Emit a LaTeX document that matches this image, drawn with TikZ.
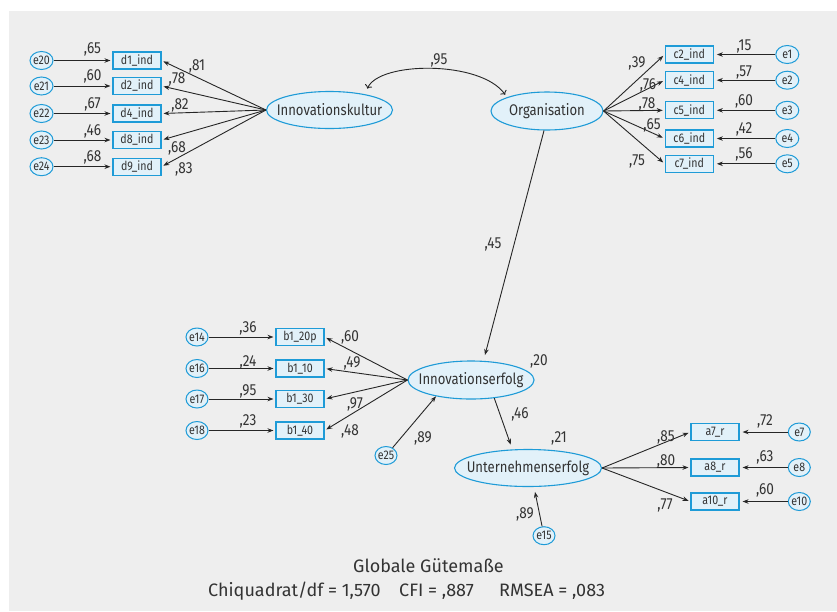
\documentclass[tikz,border=0pt]{standalone}
\usepackage{fontspec}
\setmainfont{Fira Sans}[FakeStretch=0.85]
\newfontfamily\fitfont{Fira Sans}
\usetikzlibrary{arrows.meta,shapes.geometric}

\definecolor{bgc}{HTML}{EEEEEE}
\definecolor{semline}{HTML}{1E9BD7}
\definecolor{semfill}{HTML}{E2F1F9}
\definecolor{ink}{HTML}{333333}
\definecolor{arrowc}{HTML}{262626}

% zero-width label so that an ellipse keeps exactly its given size
\newcommand\zwlabel[1]{\makebox[0pt]{#1}}

\tikzset{
  latent/.style={ellipse, draw=semline, fill=semfill, line width=1.1pt, inner sep=0pt,
    text=ink, font=\fontsize{15.4}{15.4}\selectfont},
  errvar/.style={ellipse, draw=semline, fill=semfill, line width=1pt, minimum width=23pt,
    minimum height=18pt, inner sep=0pt, text=ink, font=\fontsize{12.5}{12.5}\selectfont},
  indic/.style={rectangle, draw=semline, fill=semfill, line width=1.1pt, minimum width=48pt,
    minimum height=17pt, inner sep=0pt, text=ink, font=\fontsize{12.5}{12.5}\selectfont},
  coef/.style={inner sep=0pt, text=ink, font=\fontsize{16}{16}\selectfont,
    text height=11pt, text depth=0pt},
  arr/.style={draw=arrowc, line width=0.9pt, -{Stealth[length=6pt,width=4.5pt]}},
  fitline/.style={inner sep=0pt, text=ink, font=\fitfont\fontsize{18}{18}\selectfont,
    text height=13pt, text depth=0pt},
}

\begin{document}
\begin{tikzpicture}[x=1pt,y=-1pt]
\useasboundingbox (0,0) rectangle (837,611);
\fill[bgc] (9,11) rectangle (837,611);

% latent variables
\node[latent, minimum width=126pt, minimum height=37pt] (IK) at (329.5,110) {\zwlabel{Innovationskultur}};
\node[latent, minimum width=112pt, minimum height=38pt] (Org) at (547,111) {\zwlabel{Organisation}};
\node[latent, minimum width=126pt, minimum height=38pt] (IE) at (471,380) {\zwlabel{Innovationserfolg}};
\node[latent, minimum width=147pt, minimum height=37pt] (UE) at (528,468) {\zwlabel{Unternehmenserfolg}};

% Innovationskultur block
\foreach \nm/\err/\yy in {d1/e20/60.5, d2/e21/86, d4/e22/113.5, d8/e23/140, d9/e24/166.7}{
  \node[indic] (\nm) at (137,\yy) {\nm\_ind};
  \node[errvar] (\err) at (41.5,\yy) {\zwlabel{\err}};
  \draw[arr, shorten >=2pt] (\err) -- (\nm);
  \draw[arr, shorten >=2pt] (IK.west) -- (\nm.east);
}
\node[coef] (lk1) at (92.5,48) {,65};
\node[coef] (lk2) at (92.5,75) {,60};
\node[coef] (lk3) at (92.5,103) {,67};
\node[coef] (lk4) at (92.5,130) {,46};
\node[coef] (lk5) at (92.5,156) {,68};
\node[coef] (gk1) at (197,65) {,81};
\node[coef] (gk2) at (177,78) {,78};
\node[coef] (gk3) at (180,104) {,82};
\node[coef] (gk4) at (177,147) {,68};
\node[coef] (gk5) at (184,168) {,83};

% Organisation block
\foreach \nm/\err/\yy in {c2/e1/54.5, c4/e2/80.2, c5/e3/110.3, c6/e4/138.5, c7/e5/163.8}{
  \node[indic] (\nm) at (689.3,\yy) {\nm\_ind};
  \node[errvar] (\err) at (787.3,\yy) {\zwlabel{\err}};
  \draw[arr, shorten >=3pt] (\err) -- (\nm);
  \draw[arr, shorten >=2pt] (Org.east) -- (\nm.west);
}
\node[coef] (lo1) at (744,45) {,15};
\node[coef] (lo2) at (744,71) {,57};
\node[coef] (lo3) at (744,100) {,60};
\node[coef] (lo4) at (744,128) {,42};
\node[coef] (lo5) at (744,153) {,56};
\node[coef] (go1) at (637,62) {,39};
\node[coef] (go2) at (648,84) {,76};
\node[coef] (go3) at (647,103) {,78};
\node[coef] (go4) at (652,124) {,65};
\node[coef] (go5) at (637,160) {,75};

% covariance between the exogenous factors
\draw[arr, <->, shorten <=6pt, shorten >=3pt] (IK.24) .. controls +(14,-33) and +(-26,-37) .. (Org.161);
\node[coef] (cov) at (439,59) {,95};

% Organisation -> Innovationserfolg
\draw[arr, shorten >=6pt] ([xshift=-3pt]Org.south) -- (IE.57);
\node[coef] (p1) at (493,243) {,45};

% Innovationserfolg block
\foreach \nm/\lab/\err/\yy in {b20/b1\_20p/e14/337, b10/b1\_10/e16/368.5, b30/b1\_30/e17/399, b40/b1\_40/e18/430.5}{
  \node[indic] (\nm) at (300,\yy) {\lab};
  \node[errvar, minimum width=22pt] (\err) at (197,\yy) {\zwlabel{\err}};
  \draw[arr, shorten >=2pt] (\err) -- (\nm);
  \draw[arr, shorten >=2pt] (IE.west) -- (\nm.east);
}
\node[coef] (lb1) at (248,327) {,36};
\node[coef] (lb2) at (248,361) {,24};
\node[coef] (lb3) at (248,390) {,95};
\node[coef] (lb4) at (248,420) {,23};
\node[coef] (gb1) at (350,336) {,60};
\node[coef] (gb2) at (352,362) {,49};
\node[coef] (gb3) at (355,403) {,97};
\node[coef] (gb4) at (350,430) {,48};
\node[coef] (r2ie) at (539,360) {,20};

\node[errvar, minimum width=22pt] (e25) at (386,455.5) {\zwlabel{e25}};
\draw[arr] (e25) -- (IE.205);
\node[coef] (d25) at (423,437) {,89};

% Innovationserfolg -> Unternehmenserfolg
\draw[arr, shorten >=5pt] (IE.322) -- (UE.130);
\node[coef] (p2) at (520,413) {,46};
\node[coef] (r2ue) at (559,437) {,21};

% Unternehmenserfolg block
\foreach \nm/\lab/\err/\yy in {a7/a7\_r/e7/432, a8/a8\_r/e8/467.5, a10/a10\_r/e10/501.5}{
  \node[indic] (\nm) at (715,\yy) {\lab};
  \node[errvar, minimum width=22pt] (\err) at (799.3,\yy) {\zwlabel{\err}};
  \draw[arr, shorten >=3pt] (\err) -- (\nm);
  \draw[arr, shorten >=2pt] (UE.east) -- (\nm.west);
}
\node[coef] (la1) at (765,420) {,72};
\node[coef] (la2) at (765,456) {,63};
\node[coef] (la3) at (765,489) {,60};
\node[coef] (ga1) at (666,436) {,85};
\node[coef] (ga2) at (666,460) {,80};
\node[coef] (ga3) at (665,504) {,77};

\node[errvar, minimum width=22pt] (e15) at (544,535.7) {\zwlabel{e15}};
\draw[arr, shorten >=5pt] (e15) -- ([xshift=6pt]UE.south);
\node[coef] (d15) at (525,513) {,89};

% global fit indices
\node[fitline] (fit1) at (428.5,566) {Globale Gütemaße};
\node[fitline, anchor=west] (fit2a) at (208,589.5) {Chiquadrat/df = 1,570};
\node[fitline, anchor=west] (fit2b) at (399,589.5) {CFI = ,887};
\node[fitline, anchor=west] (fit2c) at (499,589.5) {RMSEA = ,083};
\end{tikzpicture}
\end{document}
